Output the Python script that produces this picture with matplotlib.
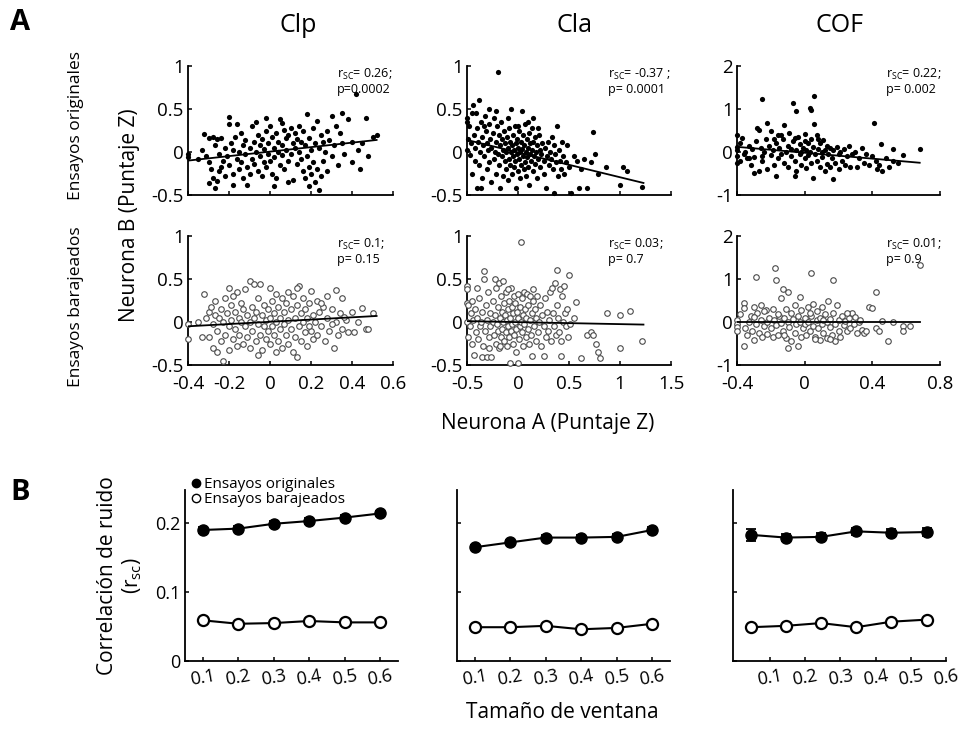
import numpy as np
import matplotlib
matplotlib.use("Agg")
import matplotlib.pyplot as plt
from matplotlib.lines import Line2D

plt.rcParams['font.family'] = ['Open Sans', 'DejaVu Sans']
plt.rcParams['mathtext.fontset'] = 'custom'
plt.rcParams['mathtext.rm'] = 'Open Sans'

# ---------------- DATA ----------------
regions = ["Clp", "Cla", "COF"]
row_labels = ["Ensayos originales", "Ensayos barajeados"]

clp_orig = [(-0.40,-0.02),(-0.40,-0.06),(-0.32,0.21),(-0.30,0.16),(-0.28,0.17),(-0.26,0.15),(-0.24,0.16),(-0.20,0.41),(-0.20,0.32),(-0.31,-0.05),(-0.30,-0.12),(-0.29,-0.20),(-0.28,-0.30),(-0.30,-0.36),(-0.27,-0.42),(-0.26,-0.34),(-0.25,-0.22),(-0.24,-0.18),(-0.23,-0.10),(-0.22,-0.28),(-0.22,0.05),(-0.21,-0.05),(-0.20,-0.15),(-0.19,0.10),(-0.18,0.02),(-0.18,-0.25),(-0.17,0.18),(-0.16,-0.08),(-0.15,0.00),(-0.15,-0.20),(-0.14,0.22),(-0.14,-0.12),(-0.13,0.08),(-0.13,-0.30),(-0.12,-0.02),(-0.12,0.14),(-0.11,-0.18),(-0.10,0.05),(-0.10,-0.25),(-0.09,0.30),(-0.09,-0.08),(-0.08,0.12),(-0.08,-0.14),(-0.07,0.35),(-0.07,0.00),(-0.06,-0.22),(-0.06,0.20),(-0.05,-0.05),(-0.05,0.08),(-0.04,-0.28),(-0.04,0.15),(-0.03,-0.12),(-0.03,0.03),(-0.02,0.25),(-0.02,-0.18),(-0.01,0.10),(-0.01,-0.02),(0.00,0.30),(0.00,-0.10),(0.01,0.18),(0.01,-0.25),(0.02,0.05),(0.02,-0.06),(0.03,0.22),(0.03,-0.30),(0.04,0.12),(0.04,0.00),(0.05,0.38),(0.05,-0.15),(0.06,0.08),(0.06,-0.04),(0.07,0.26),(0.07,-0.20),(0.08,0.16),(0.08,0.02),(0.09,-0.10),(0.09,0.20),(0.10,0.28),(0.10,-0.02),(0.11,0.10),(0.11,-0.32),(0.12,0.05),(0.12,0.22),(0.13,-0.14),(0.13,0.15),(0.14,0.30),(0.14,0.00),(0.15,-0.08),(0.15,0.12),(0.16,0.24),(0.16,-0.22),(0.17,0.08),(0.17,-0.30),(0.18,0.44),(0.18,-0.05),(0.19,0.16),(0.19,-0.18),(0.20,0.02),(0.20,-0.26),(0.21,-0.12),(0.21,0.28),(0.22,-0.35),(0.22,0.10),(0.23,-0.20),(0.23,0.36),(0.24,-0.44),(0.24,0.05),(0.25,-0.28),(0.25,0.20),(0.26,-0.10),(0.26,0.12),(0.27,0.00),(0.28,0.25),(0.28,-0.22),(0.29,0.14),(0.30,0.42),(0.30,-0.05),(0.31,0.08),(0.32,0.30),(0.33,-0.15),(0.34,0.22),(0.35,0.45),(0.35,0.10),(0.36,-0.02),(0.38,0.38),(0.40,0.12),(0.40,-0.12),(0.42,0.68),(0.43,0.02),(0.44,-0.20),(0.45,0.10),(0.47,0.40),(0.48,-0.05),(0.50,0.17),(0.52,0.20),(-0.35,-0.08),(-0.33,0.02),(-0.27,0.08),(-0.25,-0.02),(-0.18,-0.38),(-0.11,-0.38),(0.02,-0.40),(0.09,-0.35),(0.19,-0.40),(-0.16,0.32),(-0.02,0.40),(0.06,0.34)]

cla_orig = [(-0.50,0.40),(-0.50,0.35),(-0.49,0.15),(-0.50,0.02),(-0.48,0.30),(-0.47,-0.03),(-0.46,0.10),(-0.45,-0.25),(-0.44,0.55),(-0.43,0.20),(-0.42,-0.10),(-0.42,0.05),(-0.41,0.45),(-0.40,-0.42),(-0.40,0.28),(-0.39,0.12),(-0.38,0.60),(-0.38,-0.15),(-0.37,0.00),(-0.36,0.35),(-0.35,-0.30),(-0.35,0.18),(-0.34,0.08),(-0.33,-0.05),(-0.32,0.42),(-0.31,0.25),(-0.30,-0.20),(-0.30,0.10),(-0.29,0.02),(-0.28,-0.12),(-0.28,0.32),(-0.27,0.15),(-0.26,-0.35),(-0.26,0.05),(-0.25,0.22),(-0.24,-0.08),(-0.24,0.40),(-0.23,0.00),(-0.22,0.12),(-0.22,-0.25),(-0.21,0.30),(-0.20,0.93),(-0.20,-0.02),(-0.19,0.20),(-0.19,-0.15),(-0.18,0.08),(-0.18,-0.42),(-0.17,0.35),(-0.16,-0.05),(-0.16,0.15),(-0.15,-0.28),(-0.15,0.02),(-0.14,0.25),(-0.13,-0.10),(-0.13,0.10),(-0.12,-0.20),(-0.12,0.00),(-0.11,0.18),(-0.10,-0.32),(-0.10,0.05),(-0.09,-0.08),(-0.09,0.28),(-0.08,0.12),(-0.08,-0.15),(-0.07,0.00),(-0.07,0.50),(-0.06,-0.25),(-0.06,0.08),(-0.05,0.20),(-0.05,-0.05),(-0.04,-0.18),(-0.04,0.02),(-0.03,0.30),(-0.03,-0.10),(-0.02,0.10),(-0.02,-0.42),(-0.01,-0.02),(-0.01,0.15),(0.00,-0.22),(0.00,0.05),(0.01,0.25),(0.01,-0.08),(0.02,0.00),(0.02,-0.30),(0.03,0.12),(0.03,-0.15),(0.04,0.48),(0.04,0.03),(0.05,-0.05),(0.05,0.20),(0.06,-0.20),(0.06,0.08),(0.07,-0.12),(0.07,0.32),(0.08,0.00),(0.08,-0.28),(0.09,0.15),(0.09,-0.06),(0.10,0.05),(0.10,-0.18),(0.11,0.22),(0.11,-0.38),(0.12,-0.02),(0.12,0.10),(0.13,-0.10),(0.14,0.28),(0.14,0.02),(0.15,-0.22),(0.15,0.12),(0.16,-0.05),(0.17,0.18),(0.17,-0.14),(0.18,0.00),(0.19,-0.30),(0.19,0.08),(0.20,-0.08),(0.21,0.20),(0.22,-0.18),(0.22,0.02),(0.23,-0.02),(0.24,0.10),(0.25,-0.25),(0.25,-0.10),(0.26,0.05),(0.27,-0.42),(0.28,-0.05),(0.29,0.12),(0.30,-0.15),(0.31,0.00),(0.32,-0.08),(0.33,0.18),(0.34,-0.20),(0.35,-0.48),(0.35,0.08),(0.36,-0.02),(0.37,-0.12),(0.38,0.30),(0.39,-0.28),(0.40,0.02),(0.41,-0.10),(0.42,-0.20),(0.43,0.12),(0.44,-0.05),(0.45,-0.25),(0.47,-0.12),(0.48,0.08),(0.50,-0.18),(0.52,-0.48),(0.55,-0.05),(0.58,-0.10),(0.60,-0.42),(0.62,-0.20),(0.65,-0.08),(0.68,-0.42),(0.72,-0.12),(0.74,0.23),(0.75,-0.02),(0.78,-0.25),(0.86,-0.17),(1.03,-0.17),(1.07,-0.22),(1.00,-0.38),(1.22,-0.41),(-0.45,0.45),(-0.36,-0.42),(-0.28,0.50),(-0.10,0.40),(0.10,0.35),(0.20,0.28),(-0.22,0.48),(-0.33,0.30),(0.00,0.30),(0.15,0.40)]

cof_orig = [(-0.40,0.40),(-0.40,0.12),(-0.40,0.05),(-0.40,-0.10),(-0.40,-0.25),(-0.38,0.20),(-0.37,0.33),(-0.36,-0.05),(-0.35,0.00),(-0.34,-0.15),(-0.33,0.15),(-0.32,-0.30),(-0.31,0.08),(-0.30,-0.49),(-0.30,-0.12),(-0.29,0.25),(-0.28,0.56),(-0.27,0.52),(-0.27,-0.45),(-0.26,0.10),(-0.25,1.23),(-0.25,-0.20),(-0.24,0.00),(-0.23,0.30),(-0.22,0.67),(-0.22,-0.40),(-0.21,0.15),(-0.20,0.50),(-0.20,-0.08),(-0.19,0.05),(-0.18,-0.30),(-0.17,-0.55),(-0.17,0.20),(-0.16,0.40),(-0.16,-0.15),(-0.15,0.10),(-0.14,-0.05),(-0.13,0.30),(-0.12,0.62),(-0.12,-0.25),(-0.11,0.00),(-0.10,0.15),(-0.10,-0.35),(-0.09,0.45),(-0.08,-0.10),(-0.08,0.08),(-0.07,1.14),(-0.07,0.25),(-0.06,-0.55),(-0.06,-0.20),(-0.05,0.95),(-0.05,0.05),(-0.05,-0.45),(-0.04,0.35),(-0.03,-0.05),(-0.03,0.18),(-0.02,-0.30),(-0.02,0.00),(-0.01,0.10),(0.00,0.42),(0.00,-0.15),(0.01,0.05),(0.01,-0.38),(0.02,0.22),(0.02,-0.08),(0.03,1.02),(0.03,0.00),(0.035,0.97),(0.04,-0.25),(0.04,0.30),(0.05,0.12),(0.05,-0.60),(0.056,1.30),(0.056,0.65),(0.06,-0.05),(0.07,0.40),(0.07,-0.20),(0.08,0.08),(0.09,-0.35),(0.09,0.20),(0.10,0.00),(0.10,-0.12),(0.11,0.28),(0.12,-0.45),(0.12,0.05),(0.13,-0.28),(0.13,0.15),(0.14,-0.05),(0.15,0.10),(0.15,-0.35),(0.16,-0.15),(0.17,-0.63),(0.17,0.05),(0.18,-0.25),(0.19,0.12),(0.20,-0.40),(0.20,-0.05),(0.21,0.00),(0.22,-0.20),(0.23,0.08),(0.24,-0.30),(0.25,-0.10),(0.26,0.15),(0.27,-0.35),(0.28,-0.05),(0.30,0.00),(0.31,-0.35),(0.32,-0.15),(0.34,0.10),(0.35,-0.25),(0.36,-0.05),(0.38,-0.30),(0.40,-0.10),(0.41,0.67),(0.42,-0.20),(0.43,-0.40),(0.44,-0.30),(0.45,0.19),(0.46,-0.45),(0.48,-0.15),(0.50,-0.35),(0.52,0.08),(0.52,-0.20),(0.55,-0.25),(0.58,-0.08),(0.68,0.07),(-0.38,-0.20),(-0.33,-0.15),(-0.25,-0.10),(-0.18,0.30),(-0.14,0.40),(0.00,0.25),(0.08,0.30),(-0.06,0.32)]

clp_shuf = [(-0.40,-0.02),(-0.40,-0.20),(-0.32,0.33),(-0.30,-0.18),(-0.30,0.12),(-0.29,0.18),(-0.28,-0.02),(-0.28,-0.30),(-0.27,0.08),(-0.27,0.25),(-0.26,-0.10),(-0.26,-0.35),(-0.25,0.05),(-0.24,0.15),(-0.24,-0.22),(-0.23,-0.45),(-0.23,0.00),(-0.22,0.28),(-0.22,-0.15),(-0.21,0.10),(-0.20,-0.05),(-0.20,-0.32),(-0.19,0.20),(-0.19,0.02),(-0.18,-0.20),(-0.17,0.12),(-0.17,-0.08),(-0.16,0.35),(-0.16,-0.28),(-0.15,0.05),(-0.15,-0.15),(-0.14,0.22),(-0.14,0.00),(-0.13,-0.25),(-0.13,0.15),(-0.12,-0.05),(-0.12,0.38),(-0.11,0.08),(-0.11,-0.18),(-0.10,0.48),(-0.10,0.00),(-0.10,-0.30),(-0.09,0.18),(-0.09,-0.10),(-0.08,0.44),(-0.08,0.05),(-0.07,-0.22),(-0.07,0.12),(-0.06,-0.02),(-0.06,0.28),(-0.05,0.44),(-0.05,-0.15),(-0.04,0.08),(-0.04,-0.32),(-0.03,0.20),(-0.03,-0.05),(-0.02,0.02),(-0.02,-0.20),(-0.01,0.15),(-0.01,-0.10),(0.00,0.40),(0.00,0.05),(0.00,-0.25),(0.01,-0.05),(0.01,0.25),(0.02,0.10),(0.02,-0.15),(0.03,0.00),(0.03,0.32),(0.04,-0.22),(0.04,0.18),(0.05,0.05),(0.05,-0.08),(0.06,0.28),(0.06,-0.30),(0.07,0.12),(0.07,-0.02),(0.08,0.22),(0.08,-0.15),(0.09,0.02),(0.09,-0.25),(0.10,0.15),(0.10,-0.08),(0.11,0.30),(0.11,-0.35),(0.12,0.05),(0.12,-0.18),(0.13,-0.41),(0.13,0.20),(0.14,0.42),(0.14,-0.05),(0.15,0.10),(0.15,-0.22),(0.16,0.28),(0.16,0.00),(0.17,-0.12),(0.17,0.15),(0.18,-0.28),(0.18,0.05),(0.19,0.22),(0.20,0.36),(0.20,-0.10),(0.21,0.08),(0.21,-0.20),(0.22,0.00),(0.23,0.25),(0.23,-0.15),(0.24,0.12),(0.25,-0.05),(0.26,0.18),(0.27,-0.22),(0.28,0.05),(0.28,0.30),(0.29,-0.10),(0.30,0.15),(0.31,-0.30),(0.32,0.37),(0.32,0.00),(0.33,-0.15),(0.34,0.10),(0.35,0.28),(0.35,-0.08),(0.37,0.02),(0.38,-0.12),(0.40,0.12),(0.41,-0.12),(0.43,0.00),(0.45,0.16),(0.47,-0.08),(0.48,-0.08),(0.50,0.10),(-0.35,0.00),(-0.33,-0.18),(-0.31,0.05),(-0.18,0.30),(-0.06,-0.38),(0.09,0.35),(0.19,-0.05),(0.25,0.22),(0.30,-0.02),(0.36,0.06),(-0.20,0.40),(0.03,-0.35),(0.13,0.40)]

cla_shuf = [(-0.50,0.42),(-0.50,0.38),(-0.50,0.22),(-0.49,0.20),(-0.50,0.00),(-0.49,-0.18),(-0.47,-0.05),(-0.46,0.10),(-0.45,-0.25),(-0.44,0.02),(-0.43,-0.38),(-0.42,0.15),(-0.41,-0.12),(-0.40,0.05),(-0.39,-0.20),(-0.38,0.28),(-0.37,-0.05),(-0.36,0.00),(-0.35,-0.41),(-0.35,0.12),(-0.34,-0.28),(-0.33,0.59),(-0.33,0.50),(-0.32,-0.10),(-0.31,0.20),(-0.30,-0.41),(-0.30,0.02),(-0.29,0.35),(-0.28,-0.18),(-0.27,0.10),(-0.27,-0.05),(-0.26,-0.41),(-0.25,0.25),(-0.25,0.00),(-0.24,-0.15),(-0.23,0.50),(-0.23,0.08),(-0.22,-0.25),(-0.22,0.40),(-0.21,-0.02),(-0.20,0.18),(-0.20,-0.10),(-0.19,0.45),(-0.19,-0.30),(-0.18,0.05),(-0.17,0.30),(-0.17,-0.18),(-0.16,0.12),(-0.16,-0.08),(-0.15,0.48),(-0.15,0.00),(-0.14,-0.22),(-0.14,0.22),(-0.13,0.08),(-0.12,-0.12),(-0.12,0.35),(-0.11,0.02),(-0.11,-0.28),(-0.10,0.15),(-0.10,-0.05),(-0.09,0.25),(-0.09,-0.18),(-0.08,-0.48),(-0.08,0.05),(-0.07,0.40),(-0.07,-0.10),(-0.06,0.18),(-0.06,-0.02),(-0.05,-0.25),(-0.05,0.10),(-0.04,0.30),(-0.04,-0.15),(-0.03,0.00),(-0.03,0.22),(-0.02,-0.08),(-0.02,-0.35),(-0.01,0.12),(0.00,-0.48),(0.00,0.05),(0.00,0.32),(0.01,-0.20),(0.02,0.18),(0.02,-0.05),(0.03,0.93),(0.03,0.00),(0.04,-0.12),(0.04,0.28),(0.05,0.08),(0.05,-0.28),(0.06,0.35),(0.06,-0.02),(0.07,0.15),(0.08,-0.18),(0.08,0.05),(0.09,0.32),(0.10,-0.08),(0.10,0.20),(0.11,-0.25),(0.12,0.02),(0.12,0.30),(0.13,-0.15),(0.14,0.10),(0.14,-0.40),(0.15,0.25),(0.16,-0.05),(0.17,0.15),(0.18,-0.22),(0.18,0.05),(0.19,0.30),(0.20,-0.12),(0.21,0.00),(0.22,0.20),(0.23,-0.28),(0.24,0.08),(0.25,-0.05),(0.26,0.28),(0.27,-0.18),(0.28,0.12),(0.29,-0.10),(0.30,0.02),(0.31,0.35),(0.32,-0.22),(0.33,0.40),(0.34,0.10),(0.35,-0.05),(0.36,0.45),(0.37,-0.15),(0.38,0.60),(0.38,0.20),(0.39,0.05),(0.40,-0.12),(0.41,0.38),(0.42,-0.22),(0.43,0.30),(0.44,0.00),(0.45,0.42),(0.46,0.10),(0.47,-0.05),(0.48,0.15),(0.49,-0.18),(0.50,0.55),(0.51,-0.02),(0.55,0.05),(0.57,0.23),(0.62,-0.42),(0.68,-0.15),(0.72,-0.12),(0.74,-0.15),(0.76,-0.25),(0.78,-0.35),(0.80,-0.42),(0.87,0.10),(1.00,0.08),(1.10,0.13),(1.00,-0.30),(1.22,-0.22),(-0.28,-0.30),(-0.18,-0.28),(0.25,-0.40),(0.42,-0.40),(-0.45,0.25),(-0.40,0.40),(0.15,0.38),(-0.10,0.38)]

cof_shuf = [(-0.40,0.05),(-0.40,-0.05),(-0.40,-0.12),(-0.40,-0.20),(-0.36,0.45),(-0.36,0.32),(-0.36,-0.55),(-0.35,-0.15),(-0.34,-0.30),(-0.33,0.00),(-0.32,0.15),(-0.31,-0.20),(-0.30,0.35),(-0.30,-0.42),(-0.29,1.05),(-0.29,-0.05),(-0.28,0.20),(-0.27,-0.25),(-0.26,0.05),(-0.26,0.40),(-0.25,-0.35),(-0.24,-0.10),(-0.23,0.28),(-0.22,0.00),(-0.22,-0.28),(-0.21,0.10),(-0.20,-0.15),(-0.19,0.30),(-0.19,-0.35),(-0.18,0.05),(-0.175,1.26),(-0.17,0.98),(-0.17,-0.08),(-0.16,-0.30),(-0.15,0.15),(-0.14,0.55),(-0.14,-0.02),(-0.13,0.77),(-0.13,-0.20),(-0.12,0.10),(-0.11,0.30),(-0.11,-0.38),(-0.10,0.70),(-0.10,-0.60),(-0.10,0.00),(-0.09,-0.12),(-0.08,0.22),(-0.08,-0.45),(-0.07,0.08),(-0.06,-0.25),(-0.06,0.40),(-0.05,-0.05),(-0.04,0.15),(-0.04,-0.55),(-0.03,0.58),(-0.03,0.00),(-0.02,-0.35),(-0.02,0.28),(-0.01,-0.15),(0.00,0.10),(0.00,-0.05),(0.01,-0.30),(0.02,0.35),(0.02,0.00),(0.03,-0.20),(0.04,1.14),(0.04,0.15),(0.05,-0.10),(0.05,0.42),(0.06,-0.35),(0.07,0.05),(0.07,0.25),(0.08,-0.15),(0.09,-0.42),(0.09,0.10),(0.10,0.35),(0.10,-0.05),(0.11,-0.25),(0.12,0.18),(0.13,0.00),(0.13,-0.38),(0.14,0.48),(0.15,-0.12),(0.15,0.08),(0.16,-0.30),(0.17,0.98),(0.17,0.22),(0.18,-0.05),(0.18,-0.45),(0.19,0.40),(0.20,0.05),(0.20,-0.22),(0.21,-0.35),(0.22,0.15),(0.23,-0.08),(0.24,0.02),(0.25,-0.20),(0.26,0.10),(0.27,-0.15),(0.28,0.20),(0.29,-0.05),(0.30,0.12),(0.31,-0.25),(0.32,0.00),(0.34,-0.18),(0.35,-0.25),(0.36,-0.20),(0.38,0.35),(0.40,0.32),(0.42,0.70),(0.42,-0.15),(0.44,-0.20),(0.46,0.02),(0.49,-0.45),(0.52,0.00),(0.58,-0.10),(0.58,-0.20),(0.62,-0.10),(0.68,1.33),(-0.38,0.18),(-0.30,0.12),(-0.24,0.25),(-0.16,0.18),(-0.12,-0.30),(0.03,0.22),(0.11,0.05),(0.25,0.20),(0.33,0.05),(0.15,-0.40),(0.06,-0.40)]

# regression line endpoints (x0, x1), (y0, y1)
fit_x = {"Clp": [-0.40, 0.52], "Cla": [-0.50, 1.23], "COF": [-0.40, 0.68]}
fit_y_orig = {"Clp": [-0.10, 0.14], "Cla": [0.14, -0.36], "COF": [0.12, -0.25]}
fit_y_shuf = {"Clp": [-0.05, 0.07], "Cla": [0.01, -0.03], "COF": [0.00, 0.00]}

stats_orig = {"Clp": ("0.26;", "p=0.0002"), "Cla": ("-0.37 ;", "p= 0.0001"), "COF": ("0.22;", "p= 0.002")}
stats_shuf = {"Clp": ("0.1;", "p= 0.15"), "Cla": ("0.03;", "p= 0.7"), "COF": ("0.01;", "p= 0.9")}

xlims = {"Clp": (-0.4, 0.6), "Cla": (-0.5, 1.5), "COF": (-0.4, 0.8)}
xticks = {"Clp": [-0.4, -0.2, 0, 0.2, 0.4, 0.6], "Cla": [-0.5, 0, 0.5, 1, 1.5], "COF": [-0.4, 0, 0.4, 0.8]}
xticklabels = {"Clp": ["-0.4", "-0.2", "0", "0.2", "0.4", "0.6"], "Cla": ["-0.5", "0", "0.5", "1", "1.5"], "COF": ["-0.4", "0", "0.4", "0.8"]}
ylims = {"Clp": (-0.5, 1), "Cla": (-0.5, 1), "COF": (-1, 2)}
yticks = {"Clp": [-0.5, 0, 0.5, 1], "Cla": [-0.5, 0, 0.5, 1], "COF": [-1, 0, 1, 2]}
yticklabels = {"Clp": ["-0.5", "0", "0.5", "1"], "Cla": ["-0.5", "0", "0.5", "1"], "COF": ["-1", "0", "1", "2"]}

# Panel B
windows = [0.1, 0.2, 0.3, 0.4, 0.5, 0.6]
window_labels = ["0.1", "0.2", "0.3", "0.4", "0.5", "0.6"]
rsc_orig = {"Clp": [0.190, 0.192, 0.199, 0.203, 0.208, 0.214],
            "Cla": [0.165, 0.172, 0.179, 0.179, 0.180, 0.190],
            "COF": [0.183, 0.179, 0.180, 0.188, 0.186, 0.187]}
rsc_orig_err = {"Clp": [0.004, 0.004, 0.004, 0.004, 0.004, 0.004],
                "Cla": [0.003, 0.003, 0.004, 0.004, 0.004, 0.004],
                "COF": [0.009, 0.005, 0.005, 0.005, 0.005, 0.006]}
rsc_shuf = {"Clp": [0.059, 0.054, 0.055, 0.058, 0.056, 0.056],
            "Cla": [0.049, 0.049, 0.051, 0.046, 0.048, 0.054],
            "COF": [0.049, 0.051, 0.055, 0.049, 0.057, 0.060]}
rsc_shuf_err = {"Clp": [0.002] * 6, "Cla": [0.002] * 6, "COF": [0.002] * 6}
# tick-label offset seen in the third panel of B
tick_shift = {"Clp": 0.0, "Cla": 0.0, "COF": 0.055}

# ---------------- FIGURE ----------------
W, H = 964, 729
fig = plt.figure(figsize=(W / 100, H / 100), dpi=100)

def px_axes(x0, x1, ytop, ybot):
    return fig.add_axes([x0 / W, 1 - ybot / H, (x1 - x0) / W, (ybot - ytop) / H])

def style(ax, size=13.5):
    for s in ("top", "right"):
        ax.spines[s].set_visible(False)
    for s in ("left", "bottom"):
        ax.spines[s].set_linewidth(1.3)
    ax.tick_params(direction="in", length=3, width=1.1, labelsize=size)
    ax.tick_params(axis="y", pad=3)
    ax.tick_params(axis="x", pad=7)

col_x = [(188, 393), (467, 671), (737, 940)]
row_y = [(66, 195), (236, 365)]
data_orig = {"Clp": clp_orig, "Cla": cla_orig, "COF": cof_orig}
data_shuf = {"Clp": clp_shuf, "Cla": cla_shuf, "COF": cof_shuf}
stat_x = [0.727, 0.69, 0.734]

for j, reg in enumerate(regions):
    for i in range(2):
        ax = px_axes(col_x[j][0], col_x[j][1], row_y[i][0], row_y[i][1])
        style(ax)
        pts = np.array(data_orig[reg] if i == 0 else data_shuf[reg])
        if i == 0:
            ax.scatter(pts[:, 0], pts[:, 1], s=14, c="black", linewidths=0, clip_on=False, zorder=3)
            fy = fit_y_orig[reg]
            st = stats_orig[reg]
        else:
            ax.scatter(pts[:, 0], pts[:, 1], s=16, facecolors="white", edgecolors="#4a4a4a",
                       linewidths=0.8, clip_on=False, zorder=3)
            fy = fit_y_shuf[reg]
            st = stats_shuf[reg]
        ax.plot(fit_x[reg], fy, color="black", lw=1.3, zorder=4)
        ax.set_xlim(*xlims[reg])
        ax.set_ylim(*ylims[reg])
        ax.set_xticks(xticks[reg])
        ax.set_yticks(yticks[reg])
        ax.set_yticklabels(yticklabels[reg])
        if i == 1:
            ax.set_xticklabels(xticklabels[reg])
        else:
            ax.set_xticklabels([])
        ax.text(stat_x[j], 0.995, r"r$_{\mathregular{SC}}$= " + st[0], transform=ax.transAxes,
                fontsize=9, ha="left", va="top")
        ax.text(stat_x[j], 0.87, st[1], transform=ax.transAxes, fontsize=9, ha="left", va="top")

# Titles and labels for A
fig.text(10 / W, 1 - 8 / H, "A", fontsize=21, fontweight="bold", ha="left", va="top")
fig.text(10 / W, 1 - 478 / H, "B", fontsize=21, fontweight="bold", ha="left", va="top")
for xc, reg in zip([298, 575, 840], regions):
    fig.text(xc / W, 1 - 26 / H, reg, fontsize=18, ha="center", va="center")
fig.text(76 / W, 1 - 125 / H, row_labels[0], fontsize=12.5, rotation=90, ha="center", va="center")
fig.text(76 / W, 1 - 307 / H, row_labels[1], fontsize=12.5, rotation=90, ha="center", va="center")
fig.text(130 / W, 1 - 215 / H, "Neurona B (Puntaje Z)", fontsize=15, rotation=90, ha="center", va="center")
fig.text(548 / W, 1 - 423 / H, "Neurona A (Puntaje Z)", fontsize=15, ha="center", va="center")

# Panel B
colb = [(185, 398), (457, 670), (733, 946)]
for j, reg in enumerate(regions):
    ax = px_axes(colb[j][0], colb[j][1], 490, 661)
    style(ax, size=13)
    ax.tick_params(axis="x", pad=4)
    ax.errorbar(windows, rsc_orig[reg], yerr=rsc_orig_err[reg], color="black", lw=1.5,
                marker="o", markersize=8, mfc="black", mec="black", capsize=3.5,
                elinewidth=1.3, capthick=1.3, zorder=3)
    ax.errorbar(windows, rsc_shuf[reg], yerr=rsc_shuf_err[reg], color="black", lw=1.5,
                marker="o", markersize=8, mfc="white", mec="black", mew=1.6, capsize=3,
                elinewidth=1.2, capthick=1.2, zorder=3)
    ax.set_xlim(0.05, 0.65)
    ax.set_ylim(0, 0.248)
    ax.set_xticks(np.array(windows) + tick_shift[reg])
    ax.set_xticklabels(window_labels, rotation=10)
    ax.set_yticks([0, 0.1, 0.2])
    if j == 0:
        ax.set_yticklabels(["0", "0.1", "0.2"])
        ax.set_ylabel("Correlación de ruido\n(r$_{\\mathregular{sc}}$)", fontsize=15, labelpad=8,
                      linespacing=1.15)
        handles = [Line2D([], [], marker="o", ls="none", color="black", markersize=6),
                   Line2D([], [], marker="o", ls="none", mfc="white", mec="black", mew=1.0,
                          markersize=6)]
        ax.legend(handles, ["Ensayos originales", "Ensayos barajeados"], loc="upper left",
                  bbox_to_anchor=(0.035, 1.075), frameon=False, fontsize=11, handlelength=0.5,
                  handletextpad=0.25, labelspacing=0.0, borderpad=0, borderaxespad=0)
    else:
        ax.set_yticklabels([])

fig.text(562 / W, 1 - 713 / H, "Tamaño de ventana", fontsize=15, ha="center", va="center")

fig.savefig("out.png", dpi=100)
